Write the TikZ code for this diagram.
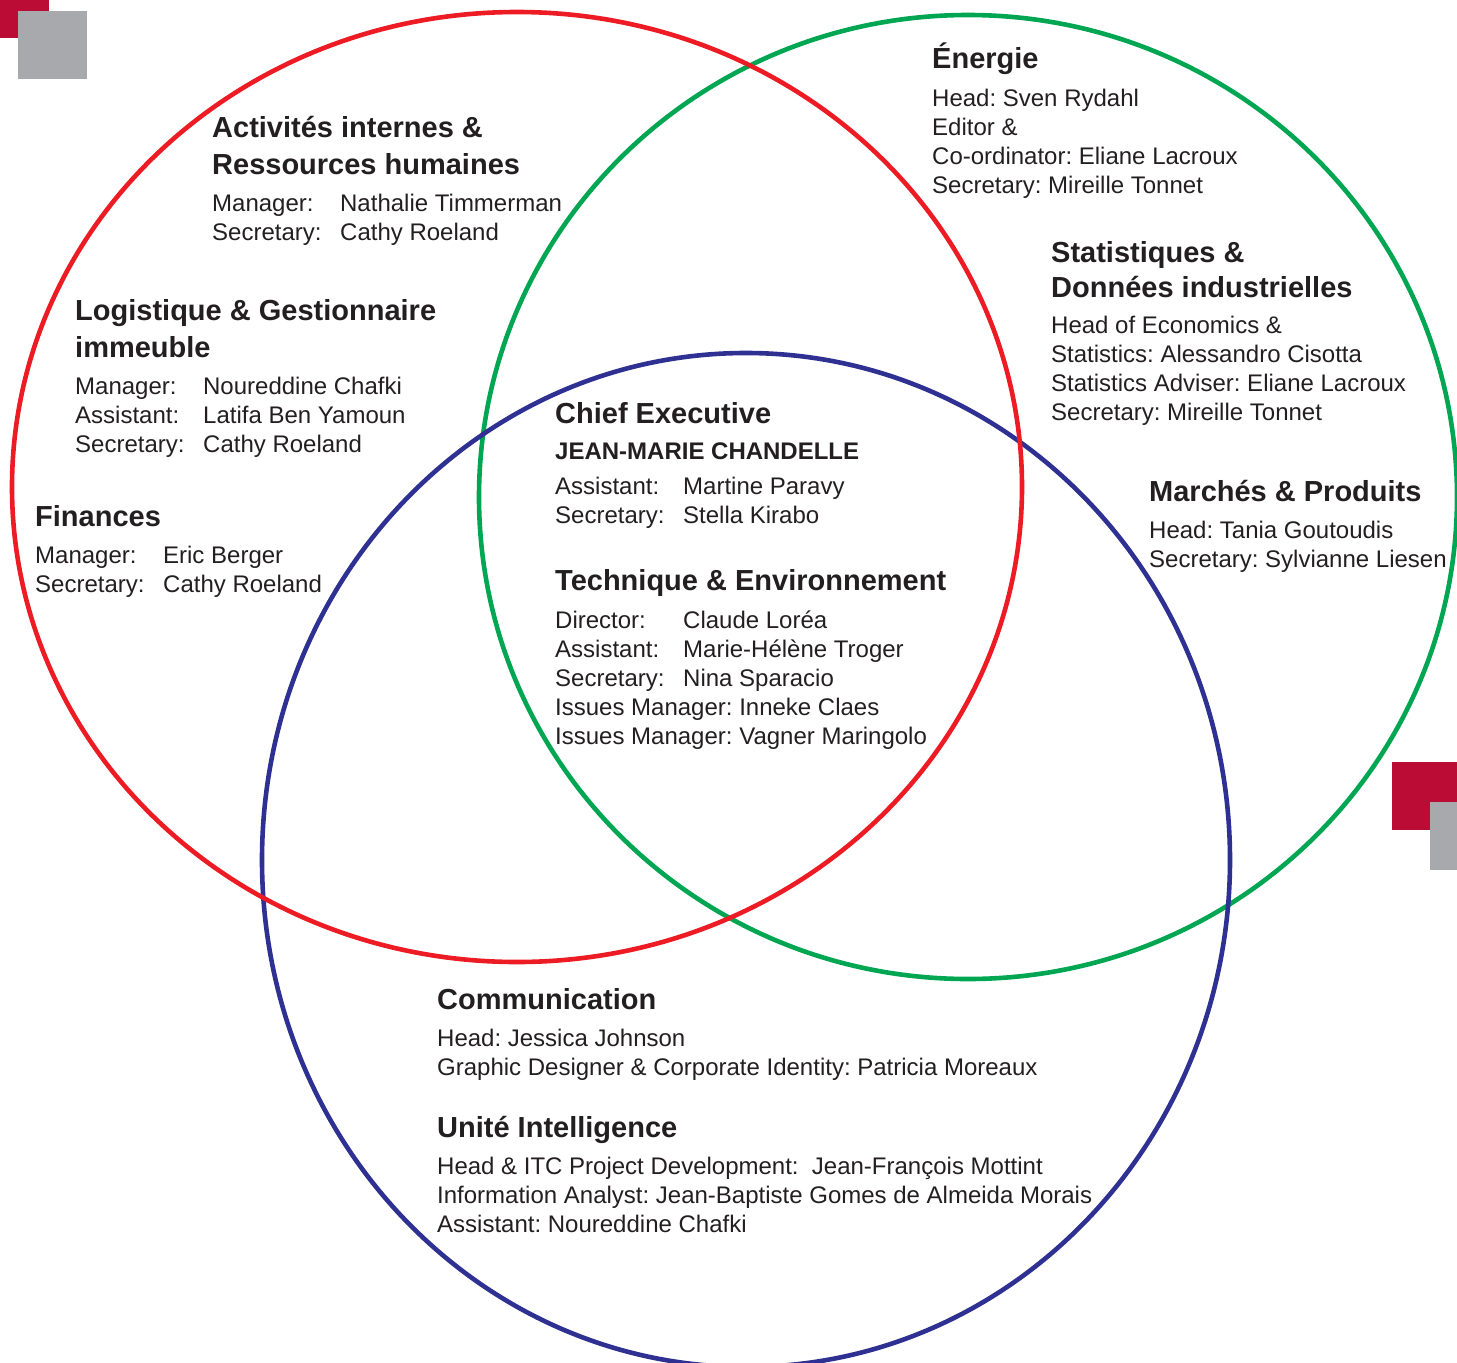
\documentclass[tikz,border=0pt]{standalone}
\usepackage{fontspec}
\setmainfont{Liberation Sans}
\usepackage{tikz}
\usetikzlibrary{positioning,calc}

\definecolor{ringred}{HTML}{ED1C24}
\definecolor{ringgreen}{HTML}{00A651}
\definecolor{ringblue}{HTML}{2E3192}
\definecolor{crimson}{HTML}{BA0C35}
\definecolor{cardgrey}{HTML}{A7A9AC}
\definecolor{ink}{HTML}{231F20}

\newcommand{\rolelbl}[1]{\makebox[128pt][l]{#1}}
\frenchspacing

\begin{document}
\begin{tikzpicture}[x=1pt, y=-1pt,
                ring/.style={line width=4.6pt},
                % base anchor sits on the last line, so nodes are placed by their last baseline
                heading/.style={anchor=base west, inner sep=0pt, align=left, text=ink, font=\fontsize{29}{36.5}\selectfont\bfseries},
                body/.style={anchor=base west, inner sep=0pt, align=left, text=ink, font=\fontsize{24}{28.9}\selectfont}
            ]
                \useasboundingbox (0,0) rectangle (1457,1363);

                % corner squares
                \fill[crimson] (0,0) rectangle (49,38);
                \fill[cardgrey] (18,11) rectangle (87,79);
                \fill[crimson] (1392,762) rectangle (1457,830);
                \fill[cardgrey] (1430,802) rectangle (1457,870);

                % the three rings
                \coordinate (cred) at (517,487);
                \coordinate (cgreen) at (968,497);
                \coordinate (cblue) at (746,860);
                \draw[ring, ringgreen] (cgreen) ellipse [x radius=489pt, y radius=482pt];
                \draw[ring, ringblue] (cblue) ellipse [x radius=484pt, y radius=507pt];
                \draw[ring, ringred] (cred) ellipse [x radius=505pt, y radius=475pt];

                % red ring
                \node[heading] (hdact) at (212,174) {Activités internes \&\\Ressources humaines};
                \node[body] (bdact) at (212,240.4) {\rolelbl{Manager:}Nathalie Timmerman\\\rolelbl{Secretary:}Cathy Roeland};

                \node[heading] (hdlog) at (75,357) {Logistique \& Gestionnaire\\immeuble};
                \node[body] (bdlog) at (75,452.3) {\rolelbl{Manager:}Noureddine Chafki\\\rolelbl{Assistant:}Latifa Ben Yamoun\\\rolelbl{Secretary:}Cathy Roeland};

                \node[heading] (hdfin) at (35,526.5) {Finances};
                \node[body] (bdfin) at (35,592.4) {\rolelbl{Manager:}Eric Berger\\\rolelbl{Secretary:}Cathy Roeland};

                % green ring
                \node[heading] (hdene) at (932,68.5) {Énergie};
                \node[body] (bdene) at (932,193.2) {Head: Sven Rydahl\\Editor \&\\Co-ordinator: Eliane Lacroux\\Secretary: Mireille Tonnet};

                \node[heading, font=\fontsize{29}{35}\selectfont\bfseries] (hdsta) at (1051,297.5) {Statistiques \&\\Données industrielles};
                \node[body] (bdsta) at (1051,420.2) {Head of Economics \&\\Statistics: Alessandro Cisotta\\Statistics Adviser: Eliane Lacroux\\Secretary: Mireille Tonnet};

                \node[heading] (hdmar) at (1149,501.5) {Marchés \& Produits};
                \node[body] (bdmar) at (1149,567.4) {Head: Tania Goutoudis\\Secretary: Sylvianne Liesen};

                % centre
                \node[heading] (hdceo) at (555,423.5) {Chief Executive};
                \node[heading, font=\fontsize{24}{29}\selectfont\bfseries] (nmceo) at (555,459.5) {JEAN-MARIE CHANDELLE};
                \node[body] (bdceo) at (555,523.4) {\rolelbl{Assistant:}Martine Paravy\\\rolelbl{Secretary:}Stella Kirabo};

                \node[heading] (hdtec) at (555,590.5) {Technique \& Environnement};
                \node[body] (bdtec) at (555,744.1) {\rolelbl{Director:}Claude Loréa\\\rolelbl{Assistant:}Marie-Hélène Troger\\\rolelbl{Secretary:}Nina Sparacio\\Issues Manager: Inneke Claes\\Issues Manager: Vagner Maringolo};

                % blue ring
                \node[heading] (hdcom) at (437,1009.5) {Communication};
                \node[body] (bdcom) at (437,1075.4) {Head: Jessica Johnson\\Graphic Designer \& Corporate Identity: Patricia Moreaux};

                \node[heading] (hdint) at (437,1137.5) {Unité Intelligence};
                \node[body] (bdint) at (437,1232.3) {Head \& ITC Project Development:\ \ Jean-François Mottint\\Information Analyst: Jean-Baptiste Gomes de Almeida Morais\\Assistant: Noureddine Chafki};
            \end{tikzpicture}
\end{document}
